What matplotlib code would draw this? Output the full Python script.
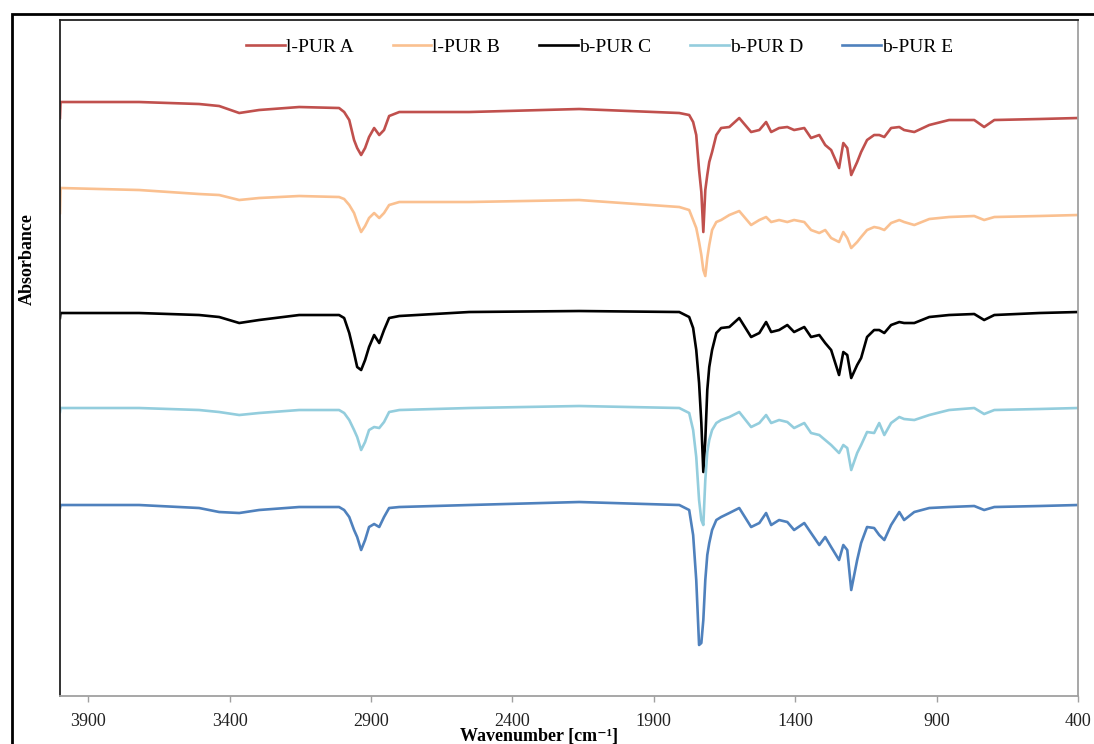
import matplotlib
matplotlib.use("Agg")
import matplotlib.pyplot as plt
from matplotlib.patches import Rectangle

plt.rcParams['font.family'] = ['Liberation Serif', 'DejaVu Serif']

# wavenumber [cm-1]
wavenumber = [4000, 3998, 3720, 3508, 3437, 3366, 3296, 3154, 3013, 2995,
              2977, 2960, 2949, 2935, 2921, 2907, 2889, 2871, 2854, 2836,
              2800, 2553, 2164, 1810, 1775, 1761, 1750, 1740, 1732, 1725,
              1718, 1711, 1704, 1694, 1679, 1662, 1633, 1598, 1556, 1527,
              1503, 1485, 1457, 1428, 1404, 1368, 1344, 1315, 1294, 1273,
              1245, 1230, 1216, 1202, 1181, 1167, 1146, 1121, 1103, 1085,
              1061, 1032, 1015, 979, 926, 856, 767, 732, 696, 537,
              400]

# absorbance (a.u., spectra stacked)
pur_a = [5.78, 5.94, 5.94, 5.92, 5.90, 5.83, 5.86, 5.89, 5.88, 5.84,
         5.76, 5.56, 5.48, 5.41, 5.48, 5.59, 5.68, 5.61, 5.66, 5.80,
         5.84, 5.84, 5.87, 5.83, 5.81, 5.74, 5.61, 5.26, 5.04, 4.64,
         5.06, 5.21, 5.34, 5.44, 5.61, 5.68, 5.69, 5.78, 5.64, 5.66,
         5.74, 5.64, 5.68, 5.69, 5.66, 5.68, 5.58, 5.61, 5.51, 5.46,
         5.28, 5.53, 5.48, 5.21, 5.34, 5.44, 5.56, 5.61, 5.61, 5.59,
         5.68, 5.69, 5.66, 5.64, 5.71, 5.76, 5.76, 5.69, 5.76, 5.77,
         5.78]
pur_b = [4.83, 5.08, 5.06, 5.02, 5.01, 4.96, 4.98, 5.00, 4.99, 4.97,
         4.91, 4.83, 4.74, 4.64, 4.70, 4.78, 4.83, 4.78, 4.83, 4.91,
         4.94, 4.94, 4.96, 4.89, 4.86, 4.76, 4.68, 4.54, 4.41, 4.26,
         4.20, 4.38, 4.51, 4.66, 4.74, 4.76, 4.81, 4.85, 4.71, 4.76,
         4.79, 4.74, 4.76, 4.74, 4.76, 4.74, 4.66, 4.63, 4.66, 4.58,
         4.54, 4.64, 4.58, 4.48, 4.54, 4.59, 4.66, 4.69, 4.68, 4.66,
         4.73, 4.76, 4.74, 4.71, 4.77, 4.79, 4.80, 4.76, 4.79, 4.80,
         4.81]
pur_c = [3.78, 3.83, 3.83, 3.81, 3.79, 3.73, 3.76, 3.81, 3.81, 3.78,
         3.63, 3.43, 3.29, 3.26, 3.36, 3.49, 3.61, 3.53, 3.66, 3.78,
         3.80, 3.84, 3.85, 3.84, 3.79, 3.68, 3.46, 3.13, 2.73, 2.24,
         2.56, 3.06, 3.29, 3.46, 3.63, 3.68, 3.69, 3.78, 3.59, 3.63,
         3.74, 3.64, 3.66, 3.71, 3.64, 3.69, 3.59, 3.61, 3.53, 3.46,
         3.21, 3.44, 3.41, 3.18, 3.31, 3.38, 3.59, 3.66, 3.66, 3.63,
         3.71, 3.74, 3.73, 3.73, 3.79, 3.81, 3.82, 3.76, 3.81, 3.83,
         3.84]
pur_d = [2.84, 2.88, 2.88, 2.86, 2.84, 2.81, 2.83, 2.86, 2.86, 2.83,
         2.76, 2.66, 2.59, 2.46, 2.54, 2.66, 2.69, 2.68, 2.74, 2.84,
         2.86, 2.88, 2.90, 2.88, 2.83, 2.66, 2.39, 1.96, 1.76, 1.71,
         2.16, 2.44, 2.56, 2.66, 2.73, 2.76, 2.79, 2.84, 2.69, 2.73,
         2.81, 2.73, 2.76, 2.74, 2.68, 2.73, 2.63, 2.61, 2.56, 2.51,
         2.43, 2.51, 2.48, 2.26, 2.43, 2.51, 2.64, 2.63, 2.73, 2.61,
         2.73, 2.79, 2.77, 2.76, 2.81, 2.86, 2.88, 2.82, 2.86, 2.87,
         2.88]
pur_e = [1.88, 1.91, 1.91, 1.88, 1.84, 1.83, 1.86, 1.89, 1.89, 1.86,
         1.79, 1.66, 1.59, 1.46, 1.56, 1.69, 1.72, 1.69, 1.79, 1.88,
         1.89, 1.91, 1.94, 1.91, 1.86, 1.61, 1.16, 0.51, 0.53, 0.76,
         1.16, 1.41, 1.53, 1.66, 1.76, 1.79, 1.83, 1.88, 1.69, 1.73,
         1.83, 1.71, 1.76, 1.74, 1.66, 1.73, 1.63, 1.51, 1.59, 1.49,
         1.36, 1.51, 1.46, 1.06, 1.36, 1.53, 1.69, 1.68, 1.61, 1.56,
         1.71, 1.84, 1.76, 1.84, 1.88, 1.89, 1.90, 1.86, 1.89, 1.90,
         1.91]

labels = ['l-PUR A', 'l-PUR B', 'b-PUR C', 'b-PUR D', 'b-PUR E']
colors = ['#C0504D', '#FAC090', '#000000', '#93CDDD', '#4F81BD']
xticks = [3900, 3400, 2900, 2400, 1900, 1400, 900, 400]

fig = plt.figure(figsize=(10.94, 7.44), dpi=100)
ax = fig.add_axes([0.0548, 0.0645, 0.9306, 0.9086])

for y, lab, col in zip([pur_a, pur_b, pur_c, pur_d, pur_e], labels, colors):
    ax.plot(wavenumber, y, color=col, lw=1.9, label=lab, solid_joinstyle='round')

ax.set_xlim(4000, 400)
ax.set_ylim(0, 6.76)
ax.set_xticks(xticks)
ax.set_xticklabels([str(t) for t in xticks])
ax.set_yticks([])
ax.tick_params(axis='x', direction='out', length=4, width=1, color='#A0A0A0',
               pad=8, labelsize=13, labelcolor='#222222')

for side in ['top', 'left']:
    ax.spines[side].set_color('#222222')
    ax.spines[side].set_linewidth(1.3)
for side in ['bottom', 'right']:
    ax.spines[side].set_color('#A0A0A0')
    ax.spines[side].set_linewidth(1.3)

fig.legend(loc='center', bbox_to_anchor=(0.548, 0.937), ncol=5, frameon=False,
           fontsize=14, handlelength=2.0, handletextpad=0.05, columnspacing=2.0)

fig.text(0.0247, 1 - 259 / 744, 'Absorbance', rotation=90, ha='center', va='center',
         fontsize=13, fontweight='bold')
fig.text(0.493, 1 - 737 / 744, 'Wavenumber [cm\u207b\u00b9]', ha='center', va='center',
         fontsize=13, fontweight='bold')

# outer frame
fig.add_artist(Rectangle((12 / 1094, -0.1), 1.2, 1.1 - 14 / 744, transform=fig.transFigure,
                         fill=False, lw=2, edgecolor='black'))

fig.savefig('out.png', dpi=100)
